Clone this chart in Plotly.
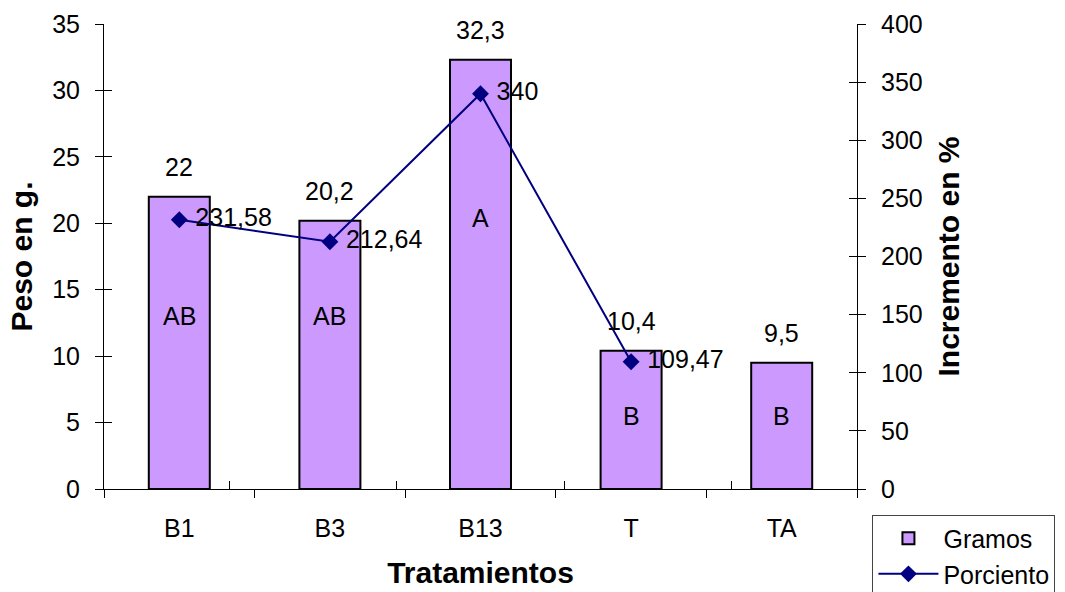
import plotly.graph_objects as go

# Treatments and measurements
tratamientos = ["B1", "B3", "B13", "T", "TA"]
gramos = [22, 20.2, 32.3, 10.4, 9.5]
porciento = [231.58, 212.64, 340, 109.47, None]
letras = ["AB", "AB", "A", "B", "B"]
# height (in g.) at which each significance letter is written
letra_y = [13.0, 13.0, 20.4, 5.5, 5.5]

FONT = "Liberation Sans, Arial, sans-serif"
FS = 25
NAVY = "#000080"


def coma(v):
    return ("%g" % v).replace(".", ",")


fig = go.Figure()

fig.add_trace(go.Bar(
    x=tratamientos, y=gramos, name="Gramos",
    marker=dict(color="#CC99FF", line=dict(color="black", width=2)),
))

fig.add_trace(go.Scatter(
    x=tratamientos, y=porciento, name="Porciento", yaxis="y2",
    mode="lines+markers+text",
    line=dict(color=NAVY, width=2),
    marker=dict(symbol="diamond", size=13, color=NAVY),
    text=[" " + coma(v) if v is not None else "" for v in porciento],
    textposition="middle right",
    textfont=dict(family=FONT, size=FS, color="black"),
    cliponaxis=False,
))

# invisible traces carrying the inward half of the crossing tick marks
fig.add_trace(go.Scatter(x=tratamientos, y=[None] * 5, xaxis="x2", yaxis="y3",
                         showlegend=False, hoverinfo="skip"))
fig.add_trace(go.Scatter(x=tratamientos, y=[None] * 5, xaxis="x2", yaxis="y4",
                         showlegend=False, hoverinfo="skip"))

# value labels above the bars
for cat, v in zip(tratamientos, gramos):
    fig.add_annotation(x=cat, y=v, xref="x", yref="y", text=coma(v), showarrow=False,
                       yanchor="bottom", yshift=14,
                       font=dict(family=FONT, size=FS, color="black"))

# significance letters inside the bars
for cat, txt, yy in zip(tratamientos, letras, letra_y):
    fig.add_annotation(x=cat, y=yy, xref="x", yref="y", text=txt, showarrow=False,
                       font=dict(family=FONT, size=FS, color="black"))

axis_common = dict(showgrid=False, zeroline=False, showline=True, linecolor="black",
                   linewidth=1, tickcolor="black", ticklen=8, tickwidth=1,
                   automargin=False)

fig.update_layout(
    width=1065, height=592,
    margin=dict(l=104, r=208, t=24, b=103, autoexpand=False),
    paper_bgcolor="white", plot_bgcolor="white",
    font=dict(family=FONT, size=FS, color="black"),
    bargap=0.595,
    showlegend=True,
    legend=dict(x=1.0205, y=-0.055, xanchor="left", yanchor="top",
                bordercolor="#444444", borderwidth=1, bgcolor="white",
                font=dict(family=FONT, size=FS), tracegroupgap=0,
                itemwidth=60),
    xaxis=dict(**axis_common, ticks="outside", tickson="boundaries",
               type="category", categoryarray=tratamientos,
               ticklabelstandoff=17,
               title=dict(text="<b>Tratamientos</b>", standoff=20)),
    xaxis2=dict(overlaying="x", anchor="y", type="category", categoryarray=tratamientos,
                tickson="boundaries", ticks="inside", ticklen=8, tickcolor="black",
                showticklabels=False, showgrid=False, zeroline=False, showline=False),
    yaxis=dict(**axis_common, ticks="outside", range=[0, 35], dtick=5,
               ticklabelstandoff=10,
               title=dict(text="<b>Peso en g.</b>", standoff=10)),
    yaxis2=dict(**axis_common, ticks="outside", overlaying="y", side="right",
                anchor="x", range=[0, 400], dtick=50, ticklabelstandoff=10,
                title=dict(text="<b>Incremento en %</b>", standoff=16)),
    yaxis3=dict(overlaying="y", anchor="x", side="left", range=[0, 35], dtick=5,
                ticks="inside", ticklen=8, tickcolor="black", showticklabels=False,
                showgrid=False, zeroline=False, showline=False),
    yaxis4=dict(overlaying="y", anchor="x", side="right", range=[0, 400], dtick=50,
                ticks="inside", ticklen=8, tickcolor="black", showticklabels=False,
                showgrid=False, zeroline=False, showline=False),
)

fig.write_html("out.html")
